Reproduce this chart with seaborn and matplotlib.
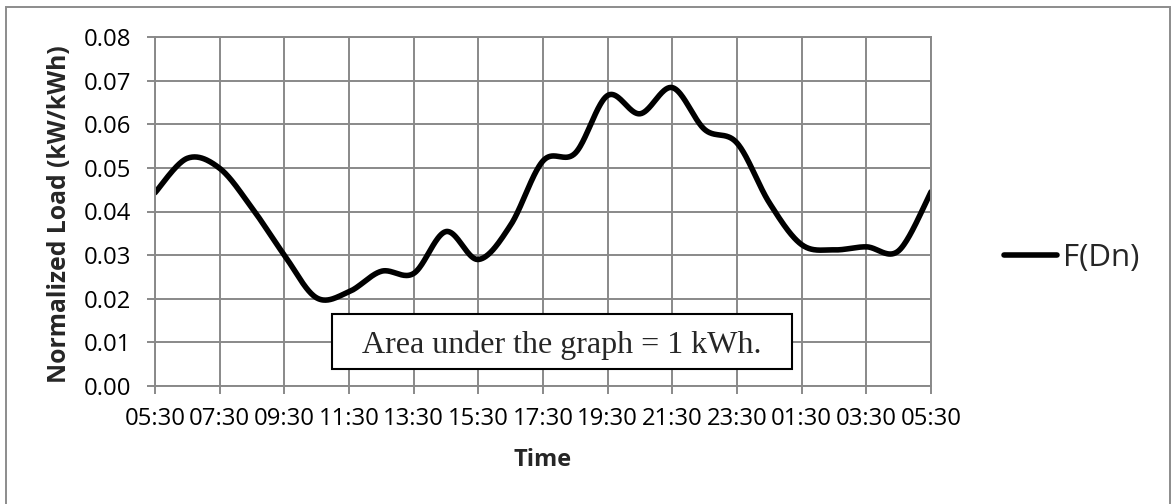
import numpy as np
import pandas as pd
import matplotlib
matplotlib.use("Agg")
import matplotlib.pyplot as plt
import seaborn as sns
from matplotlib.patches import Rectangle

# ---- data (hourly normalized load) ----
hours = ["05:30", "06:30", "07:30", "08:30", "09:30", "10:30", "11:30", "12:30",
         "13:30", "14:30", "15:30", "16:30", "17:30", "18:30", "19:30", "20:30",
         "21:30", "22:30", "23:30", "00:30", "01:30", "02:30", "03:30", "04:30", "05:30"]
load = [0.0443, 0.0522, 0.0499, 0.0408, 0.0300, 0.0202, 0.0216, 0.0263,
        0.0258, 0.0354, 0.0290, 0.0369, 0.0516, 0.0534, 0.0666, 0.0624,
        0.0684, 0.0588, 0.0557, 0.0420, 0.0324, 0.0312, 0.0319, 0.0310, 0.0445]
tick_labels = hours[::2]
series_name = "F(Dn)"
note_text = "Area under the graph = 1 kWh."

sns.set_theme(style="white")
plt.rcParams['font.family'] = ['Open Sans', 'DejaVu Sans']

W, H = 1173, 504


def smooth(xv, yv, n=40):
    """Excel-style smoothed line (Catmull-Rom Bezier) through the points."""
    xv = np.asarray(xv, float)
    yv = np.asarray(yv, float)
    m = len(xv)
    ox, oy = [], []
    t = np.linspace(0, 1, n, endpoint=False)
    for i in range(m - 1):
        i0 = max(i - 1, 0)
        i3 = min(i + 2, m - 1)
        out = []
        for v in (xv, yv):
            p0, p1, p2, p3 = v[i0], v[i], v[i + 1], v[i3]
            c1 = p1 + (p2 - p0) / 6
            c2 = p2 - (p3 - p1) / 6
            out.append((1 - t) ** 3 * p1 + 3 * (1 - t) ** 2 * t * c1
                       + 3 * (1 - t) * t ** 2 * c2 + t ** 3 * p2)
        ox.append(out[0])
        oy.append(out[1])
    ox.append([xv[-1]])
    oy.append([yv[-1]])
    return np.concatenate(ox), np.concatenate(oy)


pos = np.arange(len(hours))
sx, sy = smooth(pos, load)
df = pd.DataFrame({"pos": sx, "load": sy, "series": series_name})

fig = plt.figure(figsize=(W / 100, H / 100), dpi=100)
fig.patch.set_facecolor("white")
ax = fig.add_axes([155 / W, (H - 386) / H, 776 / W, 349 / H])

sns.lineplot(data=df, x="pos", y="load", ax=ax, color="black", lw=4,
             sort=False, estimator=None, label=series_name,
             solid_capstyle="round")

grid_c = "#898989"
ax.set_xlim(0, len(hours) - 1)
ax.set_ylim(0, 0.08)
ax.set_xticks(pos[::2])
ax.set_xticklabels(tick_labels)
yt = np.round(np.arange(0, 0.0801, 0.01), 2)
ax.set_yticks(yt)
ax.set_yticklabels([f"{v:.2f}" for v in yt])
ax.grid(True, color=grid_c, lw=1.4)
ax.set_axisbelow(True)
for s in ax.spines.values():
    s.set_visible(True)
    s.set_color(grid_c)
    s.set_linewidth(1.4)
ax.tick_params(axis="both", direction="out", length=5.8, width=1.4,
               color=grid_c, labelsize=17.2, labelcolor="black")
ax.tick_params(axis="y", pad=11.5)
ax.tick_params(axis="x", pad=9, bottom=True)
ax.tick_params(axis="y", left=True)

ax.set_xlabel("Time", fontweight="bold", fontsize=17)
ax.xaxis.label.set_va("center")
ax.xaxis.set_label_coords(0.5, (386 - 460) / 349)
ax.set_ylabel("Normalized Load (kW/kWh)", fontweight="bold", fontsize=17.8)
ax.yaxis.label.set_va("center")
ax.yaxis.set_label_coords((60 - 155) / 776, (386 - 214) / 349)

sns.move_legend(ax, "center left", bbox_to_anchor=(1004 / W, 1 - 258 / H),
                bbox_transform=fig.transFigure, frameon=False, fontsize=22.5,
                handlelength=1.7, handletextpad=0.2, borderpad=0,
                borderaxespad=0, title=None)

# annotation box
fig.patches.append(Rectangle((332 / W, 1 - 369 / H), 460 / W, 55 / H,
                             transform=fig.transFigure, facecolor="white",
                             edgecolor="black", lw=1.5, zorder=5))
fig.text(561.5 / W, 1 - 353.3 / H, note_text, ha="center", va="baseline",
         fontsize=23, family=["Liberation Serif", "DejaVu Serif"], zorder=6)

# outer chart frame
fig.patches.append(Rectangle((6 / W, -0.05), (1170 - 6) / W, (H - 7) / H + 0.05,
                             transform=fig.transFigure, fill=False,
                             edgecolor="#8c8c8c", lw=1.4, zorder=0))

fig.savefig("out.png", dpi=100)
